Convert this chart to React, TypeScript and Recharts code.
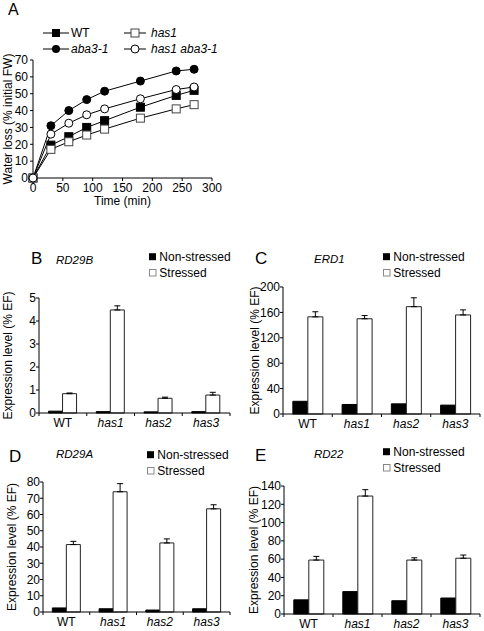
import { LineChart, Line, BarChart, Bar, XAxis, YAxis, ErrorBar, Legend } from "recharts";

const FONT = '"Liberation Sans", Arial, Helvetica, sans-serif';

// panel A: water loss over time
const times = [0, 30, 60, 90, 120, 180, 240, 270];
const wtLoss = [0, 19.5, 24.5, 30, 34, 42, 49, 52];
const has1Loss = [0, 17, 21.5, 25.5, 29, 35.5, 41, 43.5];
const aba3Loss = [0, 31, 40, 46.5, 51.5, 57.5, 63.5, 64.5];
const has1Aba3Loss = [0, 26, 32.5, 37.5, 41, 47, 52.5, 54];
const timeTicks = [0, 50, 100, 150, 200, 250, 300];
const lossTicks = [0, 10, 20, 30, 40, 50, 60, 70];

// panels B-E: expression levels
const genotypes = ["WT", "has1", "has2", "has3"];

const rd29bNon = [0.08, 0.06, 0.05, 0.06];
const rd29bStr = [0.84, 4.48, 0.64, 0.78];
const rd29bErr = [0.03, 0.18, 0.05, 0.12];
const rd29bTicks = [0, 1, 2, 3, 4, 5];

const erd1Non = [20, 15, 16, 14];
const erd1Str = [153, 150, 169, 156];
const erd1Err = [8, 5, 14, 8];
const erd1Ticks = [0, 40, 80, 120, 160, 200];

const rd29aNon = [2.5, 2, 1.2, 2];
const rd29aStr = [41.5, 74, 42.5, 63.5];
const rd29aErr = [2, 5, 2.5, 2.5];
const rd29aTicks = [0, 10, 20, 30, 40, 50, 60, 70, 80];

const rd22Non = [15.5, 24.5, 14.5, 17.5];
const rd22Str = [59, 129, 59, 61];
const rd22Err = [4, 7, 2.5, 3.5];
const rd22Ticks = [0, 20, 40, 60, 80, 100, 120, 140];

const lossData = times.map((t, i) => ({
  time: t,
  wt: wtLoss[i],
  has1: has1Loss[i],
  aba3: aba3Loss[i],
  has1aba3: has1Aba3Loss[i],
}));

const tickStyle = { fontSize: 12, fill: "#000" };

const square = (fill: string, stroke: string, name: string) => (p: any) => (
  <rect key={`${name}-${p.index}`} x={p.cx - 4} y={p.cy - 4} width={8} height={8} fill={fill} stroke={stroke} />
);
const circle = (fill: string, name: string) => (p: any) => (
  <circle key={`${name}-${p.index}`} cx={p.cx} cy={p.cy} r={4} fill={fill} stroke="#000" />
);

function LossLegend() {
  return (
    <svg width={190} height={32} style={{ display: "block" }}>
      <g fontSize={12} fill="#000">
        <line x1={3} x2={29} y1={8} y2={8} stroke="#000" />
        <rect x={12} y={4} width={8} height={8} fill="#000" />
        <text x={31} y={12.3}>WT</text>
        <line x1={84} x2={106} y1={8} y2={8} stroke="#000" />
        <rect x={91} y={4} width={8} height={8} fill="#fff" stroke="#444" />
        <text x={111} y={12.3} fontStyle="italic">has1</text>
        <line x1={3} x2={29} y1={24} y2={24} stroke="#000" />
        <circle cx={16} cy={24} r={4} fill="#000" />
        <text x={31} y={28.3} fontStyle="italic">aba3-1</text>
        <line x1={84} x2={106} y1={24} y2={24} stroke="#000" />
        <circle cx={95} cy={24} r={4} fill="#fff" stroke="#000" />
        <text x={111} y={28.3} fontStyle="italic">has1 aba3-1</text>
      </g>
    </svg>
  );
}

function StressLegend() {
  return (
    <svg width={100} height={32} style={{ display: "block" }}>
      <g fontSize={12} fill="#000">
        <rect x={4} y={3.2} width={7} height={7} fill="#000" />
        <text x={14.3} y={11}>Non-stressed</text>
        <rect x={4.5} y={19.5} width={6.5} height={6.5} fill="#fff" stroke="#888" />
        <text x={14.3} y={27.3}>Stressed</text>
      </g>
    </svg>
  );
}

function GenotypeTick(props: any) {
  const { x, y, payload, index, half } = props;
  const axisY = y - 5;
  return (
    <g>
      <line x1={x - half} x2={x - half} y1={axisY} y2={axisY + 3} stroke="#000" />
      {index === genotypes.length - 1 && (
        <line x1={x + half} x2={x + half} y1={axisY} y2={axisY + 3} stroke="#000" />
      )}
      <text
        x={x}
        y={y}
        dy="0.72em"
        textAnchor="middle"
        fontSize={12}
        fill="#000"
        fontStyle={payload.value === "WT" ? "normal" : "italic"}
      >
        {payload.value}
      </text>
    </g>
  );
}

interface PanelProps {
  left: number;
  top: number;
  width: number;
  height: number;
  marginTop: number;
  marginRight: number;
  axisWidth: number;
  xAxisHeight: number;
  labelOffset: number;
  non: number[];
  str: number[];
  err: number[];
  ticks: number[];
  legendLeft: number;
  legendTop: number;
}

function ExpressionPanel(p: PanelProps) {
  const data = genotypes.map((g, i) => ({ genotype: g, non: p.non[i], str: p.str[i], err: [0, p.err[i]] }));
  const half = (p.width - p.axisWidth - p.marginRight) / (genotypes.length * 2);
  return (
    <div style={{ position: "absolute", left: p.left, top: p.top }}>
      <BarChart
        width={p.width}
        height={p.height}
        data={data}
        margin={{ top: p.marginTop, right: p.marginRight, bottom: 0, left: 0 }}
        barCategoryGap="20%"
        barGap={0}
      >
        <XAxis
          dataKey="genotype"
          height={p.xAxisHeight}
          stroke="#000"
          tickLine={false}
          tickSize={3}
          tickMargin={2}
          interval={0}
          tick={(t: any) => <GenotypeTick {...t} half={half} />}
        />
        <YAxis
          width={p.axisWidth}
          domain={[p.ticks[0], p.ticks[p.ticks.length - 1]]}
          ticks={p.ticks}
          interval={0}
          stroke="#000"
          tickSize={3}
          tickMargin={0}
          tick={tickStyle}
          label={{
            value: "Expression level (% EF)",
            angle: -90,
            position: "insideLeft",
            offset: p.labelOffset,
            style: { textAnchor: "middle", fontSize: 12, fill: "#000" },
          }}
        />
        <Legend
          layout="horizontal"
          verticalAlign="middle"
          align="center"
          content={() => <StressLegend />}
          wrapperStyle={{ left: p.legendLeft, top: p.legendTop, width: 100, height: 32 }}
        />
        <Bar dataKey="non" fill="#000" stroke="#000" isAnimationActive={false} />
        <Bar dataKey="str" fill="#fff" stroke="#222" isAnimationActive={false}>
          <ErrorBar dataKey="err" width={3} stroke="#000" strokeWidth={1} direction="y" />
        </Bar>
      </BarChart>
    </div>
  );
}

export default function App() {
  return (
    <div
      style={{
        position: "absolute",
        left: 0,
        top: 0,
        width: 484,
        height: 631,
        background: "#fff",
        fontFamily: FONT,
        overflow: "hidden",
      }}
    >
      <div style={{ position: "absolute", left: 0, top: 20 }}>
        <LineChart width={230} height={190} data={lossData} margin={{ top: 40, right: 18, bottom: 0, left: 0 }}>
          <XAxis
            dataKey="time"
            type="number"
            domain={[0, 300]}
            ticks={timeTicks}
            interval={0}
            height={32}
            stroke="#000"
            tickSize={3}
            tickMargin={2}
            tick={tickStyle}
            label={{ value: "Time (min)", position: "insideBottom", offset: 5, style: { fontSize: 12, fill: "#000" } }}
          />
          <YAxis
            width={33}
            domain={[0, 70]}
            ticks={lossTicks}
            interval={0}
            stroke="#000"
            tickSize={3}
            tickMargin={2}
            tick={tickStyle}
            label={{
              value: "Water loss (% initial FW)",
              angle: -90,
              position: "insideLeft",
              offset: 8,
              style: { textAnchor: "middle", fontSize: 12, fill: "#000" },
            }}
          />
          <Legend
            layout="horizontal"
            verticalAlign="middle"
            align="center"
            content={() => <LossLegend />}
            wrapperStyle={{ left: 40, top: 5, width: 190, height: 32 }}
          />
          <Line dataKey="aba3" stroke="#000" strokeWidth={1} dot={circle("#000", "aba3")} isAnimationActive={false} />
          <Line dataKey="wt" stroke="#000" strokeWidth={1} dot={square("#000", "#000", "wt")} isAnimationActive={false} />
          <Line dataKey="has1" stroke="#000" strokeWidth={1} dot={square("#fff", "#444", "has1")} isAnimationActive={false} />
          <Line dataKey="has1aba3" stroke="#000" strokeWidth={1} dot={circle("#fff", "dbl")} isAnimationActive={false} />
        </LineChart>
      </div>

      <ExpressionPanel
        left={0} top={240} width={240} height={193} marginTop={58} marginRight={10}
        axisWidth={39} xAxisHeight={20} labelOffset={8}
        non={rd29bNon} str={rd29bStr} err={rd29bErr} ticks={rd29bTicks}
        legendLeft={145} legendTop={10}
      />
      <ExpressionPanel
        left={245} top={240} width={239} height={194} marginTop={47} marginRight={4}
        axisWidth={38} xAxisHeight={20} labelOffset={10}
        non={erd1Non} str={erd1Str} err={erd1Err} ticks={erd1Ticks}
        legendLeft={134} legendTop={10}
      />
      <ExpressionPanel
        left={0} top={440} width={240} height={191} marginTop={42} marginRight={10}
        axisWidth={43} xAxisHeight={19} labelOffset={12}
        non={rd29aNon} str={rd29aStr} err={rd29aErr} ticks={rd29aTicks}
        legendLeft={143} legendTop={8}
      />
      <ExpressionPanel
        left={245} top={440} width={239} height={191} marginTop={46} marginRight={4}
        axisWidth={39} xAxisHeight={17} labelOffset={8.5}
        non={rd22Non} str={rd22Str} err={rd22Err} ticks={rd22Ticks}
        legendLeft={134} legendTop={5}
      />

      <svg
        width={484}
        height={631}
        style={{ position: "absolute", left: 0, top: 0, pointerEvents: "none" }}
      >
        <g fill="#000">
          <text x={8} y={15} fontSize={16}>A</text>
          <text x={31} y={264} fontSize={17}>B</text>
          <text x={255} y={264} fontSize={17}>C</text>
          <text x={9} y={461.5} fontSize={17}>D</text>
          <text x={255} y={461} fontSize={17}>E</text>
          <text x={56} y={264} fontSize={11.5} fontStyle="italic">RD29B</text>
          <text x={314} y={262.7} fontSize={11.5} fontStyle="italic">ERD1</text>
          <text x={56} y={458.3} fontSize={11.5} fontStyle="italic">RD29A</text>
          <text x={314} y={457.7} fontSize={11.5} fontStyle="italic">RD22</text>
        </g>
      </svg>
    </div>
  );
}
